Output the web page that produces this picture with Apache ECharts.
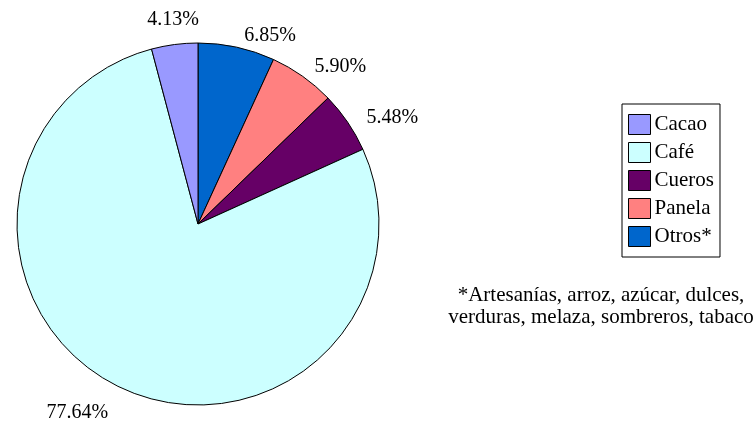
<!DOCTYPE html>
<html>
<head>
<meta charset="utf-8">
<script src="https://cdn.jsdelivr.net/npm/echarts@6/dist/echarts.min.js"></script>
<style>
  html, body { margin: 0; padding: 0; background: #fff; }
  #chart { width: 754px; height: 424px; }
</style>
</head>
<body>
<div id="chart"></div>
<script>
// data in clockwise order starting at 12 o'clock
const categories = ["Otros*", "Panela", "Cueros", "Café", "Cacao"]
const values = [6.85, 5.90, 5.48, 77.64, 4.13]
const colors = ["#0066CC", "#FF8080", "#660066", "#CCFFFF", "#9999FF"]
const legendOrder = ["Cacao", "Café", "Cueros", "Panela", "Otros*"]
const footnote = ["*Artesanías, arroz, azúcar, dulces,", "verduras, melaza, sombreros, tabaco"]

// small nudges so labels sit where excel put them
const labelOffsets = { "Cacao": [31, -13], "Café": [-2, 14], "Cueros": [4, 2] }

const font = "'Liberation Serif', 'DejaVu Serif', serif"
const myChart = echarts.init(document.getElementById("chart"))

const option = {
  animation: false,
  backgroundColor: "#fff",
  legend: {
    orient: "vertical",
    left: 622,
    top: 104,
    padding: [10, 6, 10, 6],
    borderColor: "#000",
    borderWidth: 1,
    backgroundColor: "#fff",
    icon: "rect",
    itemWidth: 22,
    itemHeight: 20,
    itemGap: 7,
    data: legendOrder,
    itemStyle: { borderColor: "#000", borderWidth: 1 },
    textStyle: { fontFamily: font, fontSize: 21, lineHeight: 20, color: "#000", padding: [0, 0, 0, -1] },
  },
  graphic: footnote.map((t, i) => ({
    type: "text",
    x: 601,
    y: 285 + i * 22,
    style: { text: t, font: "21px " + font, fill: "#000", textAlign: "center" },
  })),
  series: [
    {
      type: "pie",
      center: [198, 224],
      radius: 181,
      startAngle: 90,
      clockwise: true,
      avoidLabelOverlap: false,
      data: categories.map((name, i) => ({
        name: name,
        value: values[i],
        itemStyle: { color: colors[i] },
        label: labelOffsets[name] ? { offset: labelOffsets[name] } : {},
      })),
      itemStyle: { borderColor: "#000", borderWidth: 1 },
      label: {
        show: true,
        position: "outside",
        formatter: (p) => p.value.toFixed(2) + "%",
        fontFamily: font,
        fontSize: 20,
        color: "#000",
      },
      labelLine: { show: false, length: 12, length2: 0 },
      emphasis: { disabled: true },
    },
  ],
}
myChart.setOption(option)
</script>
</body>
</html>
